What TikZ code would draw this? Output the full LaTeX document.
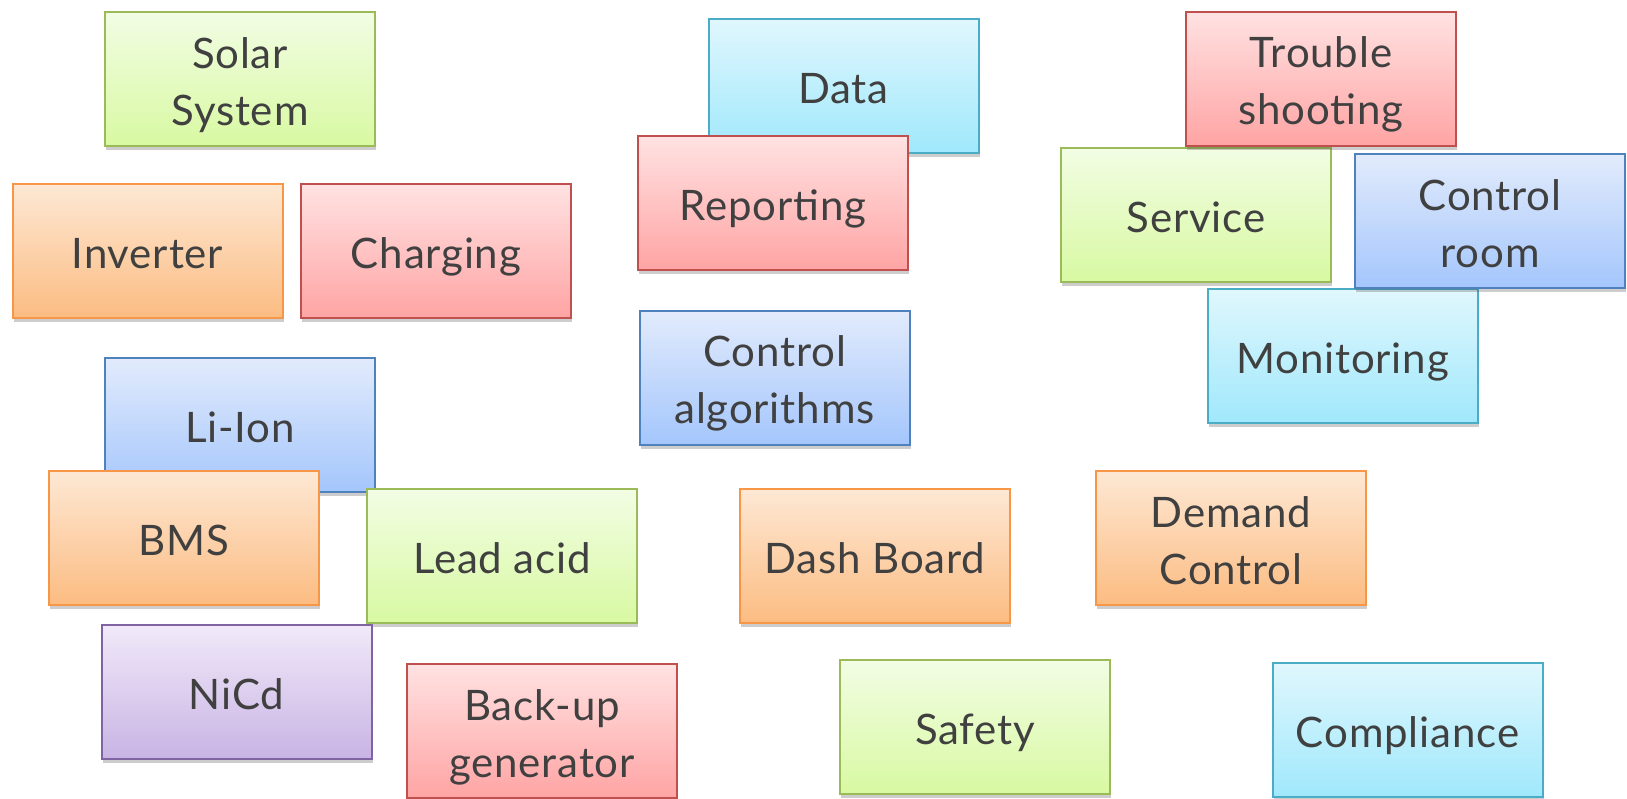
\documentclass[tikz,border=0pt]{standalone}
\usepackage{fontspec}
\setmainfont{Lato}[LetterSpace=2]
\usetikzlibrary{shadows}
\definecolor{txt}{HTML}{404040}
\definecolor{gB}{HTML}{9BBB59}\definecolor{gT}{RGB}{242,253,228}\definecolor{gL}{RGB}{216,249,162}
\definecolor{oB}{HTML}{F79646}\definecolor{oT}{RGB}{253,232,212}\definecolor{oL}{RGB}{252,188,130}
\definecolor{rB}{HTML}{C0504D}\definecolor{rT}{RGB}{255,226,226}\definecolor{rL}{RGB}{255,164,164}
\definecolor{cB}{HTML}{4BACC6}\definecolor{cT}{RGB}{224,247,253}\definecolor{cL}{RGB}{160,232,252}
\definecolor{bB}{HTML}{4F81BD}\definecolor{bT}{RGB}{226,235,252}\definecolor{bL}{RGB}{164,198,252}
\definecolor{pB}{HTML}{8064A2}\definecolor{pT}{RGB}{241,233,249}\definecolor{pL}{RGB}{200,180,228}
\newcommand\Ls{\rule[-5.5pt]{0pt}{28.5pt}}
\begin{document}
\begin{tikzpicture}[x=0.5pt,y=-0.5pt,
  box/.style={minimum width=135pt, minimum height=67pt, line width=1pt, inner sep=0pt,
    align=center, text=txt, font=\fontsize{21}{28.5}\selectfont,
    drop shadow={shadow xshift=0.6pt, shadow yshift=-2pt, opacity=0.28, fill=black!70}},
  gbox/.style={box, draw=gB, top color=gT, bottom color=gL},
  obox/.style={box, draw=oB, top color=oT, bottom color=oL},
  rbox/.style={box, draw=rB, top color=rT, bottom color=rL},
  cbox/.style={box, draw=cB, top color=cT, bottom color=cL},
  bbox/.style={box, draw=bB, top color=bT, bottom color=bL},
  pbox/.style={box, draw=pB, top color=pT, bottom color=pL}]
\useasboundingbox (0,0) rectangle (1627,798);
\clip (0,0) rectangle (1627,798);
\node[gbox] (solar) at (240,79) {\Ls Solar\\\Ls System};
\node[obox] (inverter) at (147.5,251) {\Ls Inverter};
\node[rbox] (charging) at (436,251) {\Ls Charging};
\node[cbox] (data) at (843.5,85.5) {\Ls Data};
\node[rbox] (reporting) at (773,203) {\Ls Reporting};
\node[bbox] (ctrlalg) at (774.5,377.5) {\Ls Control\\\Ls algorithms};
\node[gbox] (service) at (1196,214.5) {\Ls Service};
\node[rbox] (trouble) at (1321,78.5) {\Ls Trouble\\\Ls shooting};
\node[cbox] (monitoring) at (1342.5,356) {\Ls Monitoring};
\node[bbox] (ctrlroom) at (1490,221) {\Ls Control\\\Ls room};
\node[bbox] (liion) at (240,425) {\Ls Li-Ion};
\node[obox] (bms) at (184,538) {\Ls BMS};
\node[gbox] (lead) at (502,556) {\Ls Lead acid};
\node[pbox] (nicd) at (236.5,692) {\Ls NiCd};
\node[rbox] (backup) at (542,731) {\Ls Back-up\\\Ls generator};
\node[obox] (dash) at (875,556) {\Ls Dash Board};
\node[obox] (demand) at (1231,538) {\Ls Demand\\\Ls Control};
\node[gbox] (safety) at (975,727) {\Ls Safety};
\node[cbox] (compliance) at (1407.5,730) {\Ls Compliance};
\end{tikzpicture}
\end{document}
